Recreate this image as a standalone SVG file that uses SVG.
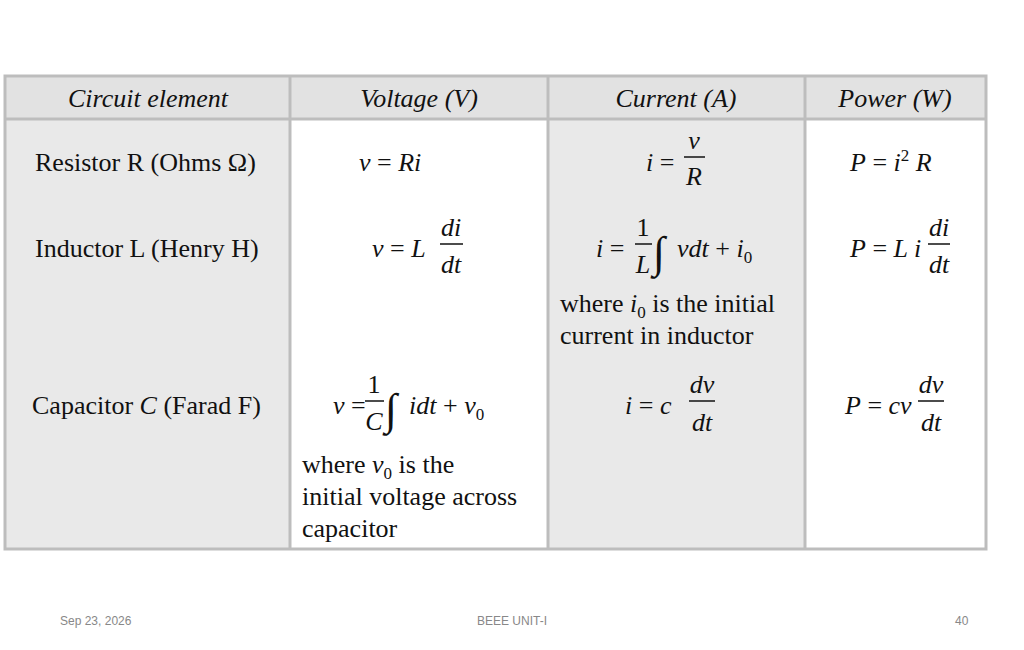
<svg xmlns="http://www.w3.org/2000/svg" width="1024" height="650" viewBox="0 0 1024 650">
<style>
.t{font-family:"Liberation Serif",serif;font-size:26px;fill:#111}
.i{font-style:italic}
.h{font-family:"Liberation Serif",serif;font-size:26px;font-style:italic;fill:#111;text-anchor:middle}
.s{font-size:17px}
.g{font-family:"Liberation Serif",serif;font-size:44px;fill:#111}
.f{font-family:"Liberation Sans",sans-serif;font-size:12px;fill:#888}
.ln{stroke:#111;stroke-width:1.5}
</style>
<rect width="1024" height="650" fill="#fff"/>
<g id="table">
<rect x="5" y="76" width="981" height="473" fill="#fff"/>
<rect x="5" y="119" width="285" height="430" fill="#e9e9e9"/>
<rect x="548" y="119" width="257" height="430" fill="#e9e9e9"/>
<rect x="5" y="76" width="981" height="43" fill="#e2e2e2"/>
<g stroke="#bdbdbd" stroke-width="3" fill="none">
<rect x="5" y="76" width="981" height="473"/>
<line x1="5" y1="119" x2="986" y2="119"/>
<line x1="290" y1="76" x2="290" y2="549"/>
<line x1="548" y1="76" x2="548" y2="549"/>
<line x1="805" y1="76" x2="805" y2="549"/>
</g>
</g>
<g id="header">
<text class="h" x="148" y="107">Circuit element</text>
<text class="h" x="419" y="107">Voltage (V)</text>
<text class="h" x="676" y="107">Current (A)</text>
<text class="h" x="895" y="107">Power (W)</text>
</g>
<g id="row1">
<text class="t" x="35" y="171">Resistor R (Ohms Ω)</text>
<text class="t" x="359" y="171"><tspan class="i">v</tspan> = <tspan class="i">Ri</tspan></text>
<text class="t" x="646" y="171"><tspan class="i">i</tspan> =</text>
<text class="t i" x="694" y="149" text-anchor="middle">v</text>
<line class="ln" x1="684" y1="157" x2="705" y2="157"/>
<text class="t i" x="694" y="185" text-anchor="middle">R</text>
<text class="t" x="850" y="171"><tspan class="i">P</tspan> = <tspan class="i">i</tspan><tspan class="s" dy="-10">2</tspan><tspan dy="10"> </tspan><tspan class="i">R</tspan></text>
</g>
<g id="row2">
<text class="t" x="35" y="257">Inductor L (Henry H)</text>
<text class="t" x="372" y="257"><tspan class="i">v</tspan> = <tspan class="i">L</tspan></text>
<text class="t i" x="451" y="236" text-anchor="middle">di</text>
<line class="ln" x1="440" y1="244" x2="463" y2="244"/>
<text class="t i" x="451" y="273" text-anchor="middle">dt</text>
<text class="t" x="596" y="257"><tspan class="i">i</tspan> =</text>
<text class="t" x="643" y="236" text-anchor="middle">1</text>
<line class="ln" x1="635" y1="244" x2="652" y2="244"/>
<text class="t i" x="643" y="273" text-anchor="middle">L</text>
<text class="g i" x="653" y="267">∫</text>
<text class="t" x="677" y="257"><tspan class="i">vdt</tspan> + <tspan class="i">i</tspan><tspan class="s" dy="6">0</tspan></text>
<text class="t" x="560" y="312">where <tspan class="i">i</tspan><tspan class="s" dy="6">0</tspan><tspan dy="-6"> is the initial</tspan></text>
<text class="t" x="560" y="344">current in inductor</text>
<text class="t" x="850" y="257"><tspan class="i">P</tspan> = <tspan class="i">L i</tspan></text>
<text class="t i" x="939" y="236" text-anchor="middle">di</text>
<line class="ln" x1="928" y1="244" x2="950" y2="244"/>
<text class="t i" x="939" y="273" text-anchor="middle">dt</text>
</g>
<g id="row3">
<text class="t" x="32" y="414">Capacitor <tspan class="i">C</tspan> (Farad F)</text>
<text class="t" x="333" y="414"><tspan class="i">v</tspan> =</text>
<text class="t" x="374" y="393" text-anchor="middle">1</text>
<line class="ln" x1="365" y1="401" x2="384" y2="401"/>
<text class="t i" x="374" y="430" text-anchor="middle">C</text>
<text class="g i" x="385" y="424">∫</text>
<text class="t" x="409" y="414"><tspan class="i">idt</tspan> + <tspan class="i">v</tspan><tspan class="s" dy="6">0</tspan></text>
<text class="t" x="302" y="473">where <tspan class="i">v</tspan><tspan class="s" dy="6">0</tspan><tspan dy="-6"> is the</tspan></text>
<text class="t" x="302" y="505">initial voltage across</text>
<text class="t" x="302" y="537">capacitor</text>
<text class="t" x="625" y="414"><tspan class="i">i</tspan> = <tspan class="i">c</tspan></text>
<text class="t i" x="702" y="393" text-anchor="middle">dv</text>
<line class="ln" x1="689" y1="401" x2="715" y2="401"/>
<text class="t i" x="702" y="431" text-anchor="middle">dt</text>
<text class="t" x="845" y="414"><tspan class="i">P</tspan> = <tspan class="i">cv</tspan></text>
<text class="t i" x="931" y="393" text-anchor="middle">dv</text>
<line class="ln" x1="918" y1="401" x2="944" y2="401"/>
<text class="t i" x="931" y="431" text-anchor="middle">dt</text>
</g>
<g id="footer">
<text class="f" x="60" y="625">Sep 23, 2026</text>
<text class="f" x="512" y="625" text-anchor="middle">BEEE UNIT-I</text>
<text class="f" x="955" y="625">40</text>
</g>
</svg>
